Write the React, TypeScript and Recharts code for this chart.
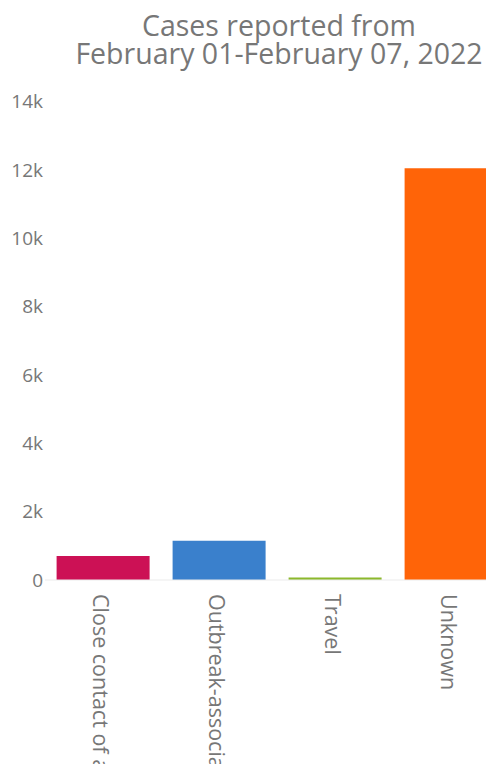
import React from 'react';
import { BarChart, Bar, XAxis, YAxis, Cell, ReferenceLine } from 'recharts';

const categories = ['Close contact of a case', 'Outbreak-associated', 'Travel', 'Unknown'];
const cases = [700, 1150, 70, 12050];
const barColors = ['#cc1155', '#3a80cc', '#8cb82c', '#ff6408'];
const yTicks = [0, 2000, 4000, 6000, 8000, 10000, 12000, 14000];
const titleLines = ['Cases reported from', 'February 01-February 07, 2022'];

const data = categories.map((name, i) => ({ name, value: cases[i] }));

const FONT = '"Open Sans", sans-serif';

const formatK = (v: number) => (v === 0 ? '0' : `${v / 1000}k`);

const RotatedTick = (props: any) => {
  const { x, y, payload } = props;
  const ax = x - 10.5;
  const ay = y + 14;
  return (
    <text
      x={ax}
      y={ay}
      transform={`rotate(90, ${ax}, ${ay})`}
      textAnchor="start"
      fontSize={21.5}
      fontFamily={FONT}
      fill="#777"
    >
      {payload.value}
    </text>
  );
};

const App: React.FC = () => {
  return (
    <div
      style={{
        position: 'fixed',
        left: 0,
        top: 0,
        width: 486,
        height: 764,
        overflow: 'hidden',
        background: '#fff',
      }}
    >
      {titleLines.map((line, i) => (
        <div
          key={line}
          style={{
            position: 'absolute',
            left: 0,
            top: 11 + i * 28,
            width: 558,
            height: 28,
            textAlign: 'center',
            fontFamily: FONT,
            fontSize: 28.5,
            lineHeight: '28px',
            color: '#777',
            whiteSpace: 'nowrap',
          }}
        >
          {line}
        </div>
      ))}
      <div style={{ position: 'absolute', left: 0, top: 0 }}>
        <BarChart
          width={509}
          height={830}
          data={data}
          margin={{ top: 101.5, right: 0, left: 0, bottom: 0 }}
          barCategoryGap="10%"
        >
          <YAxis
            width={45}
            domain={[0, 14000]}
            ticks={yTicks}
            tickFormatter={formatK}
            axisLine={false}
            tickLine={false}
            tickSize={0}
            tickMargin={2}
            tick={{ fontSize: 19, fontFamily: FONT, fill: '#777' }}
          />
          <XAxis
            dataKey="name"
            height={250}
            interval={0}
            axisLine={false}
            tickLine={false}
            tickSize={0}
            tickMargin={0}
            tick={<RotatedTick />}
          />
          <ReferenceLine y={0} stroke="#ebebeb" strokeWidth={1} />
          <Bar dataKey="value" isAnimationActive={false}>
            {data.map((d, i) => (
              <Cell key={d.name} fill={barColors[i]} />
            ))}
          </Bar>
        </BarChart>
      </div>
    </div>
  );
};

export default App;
